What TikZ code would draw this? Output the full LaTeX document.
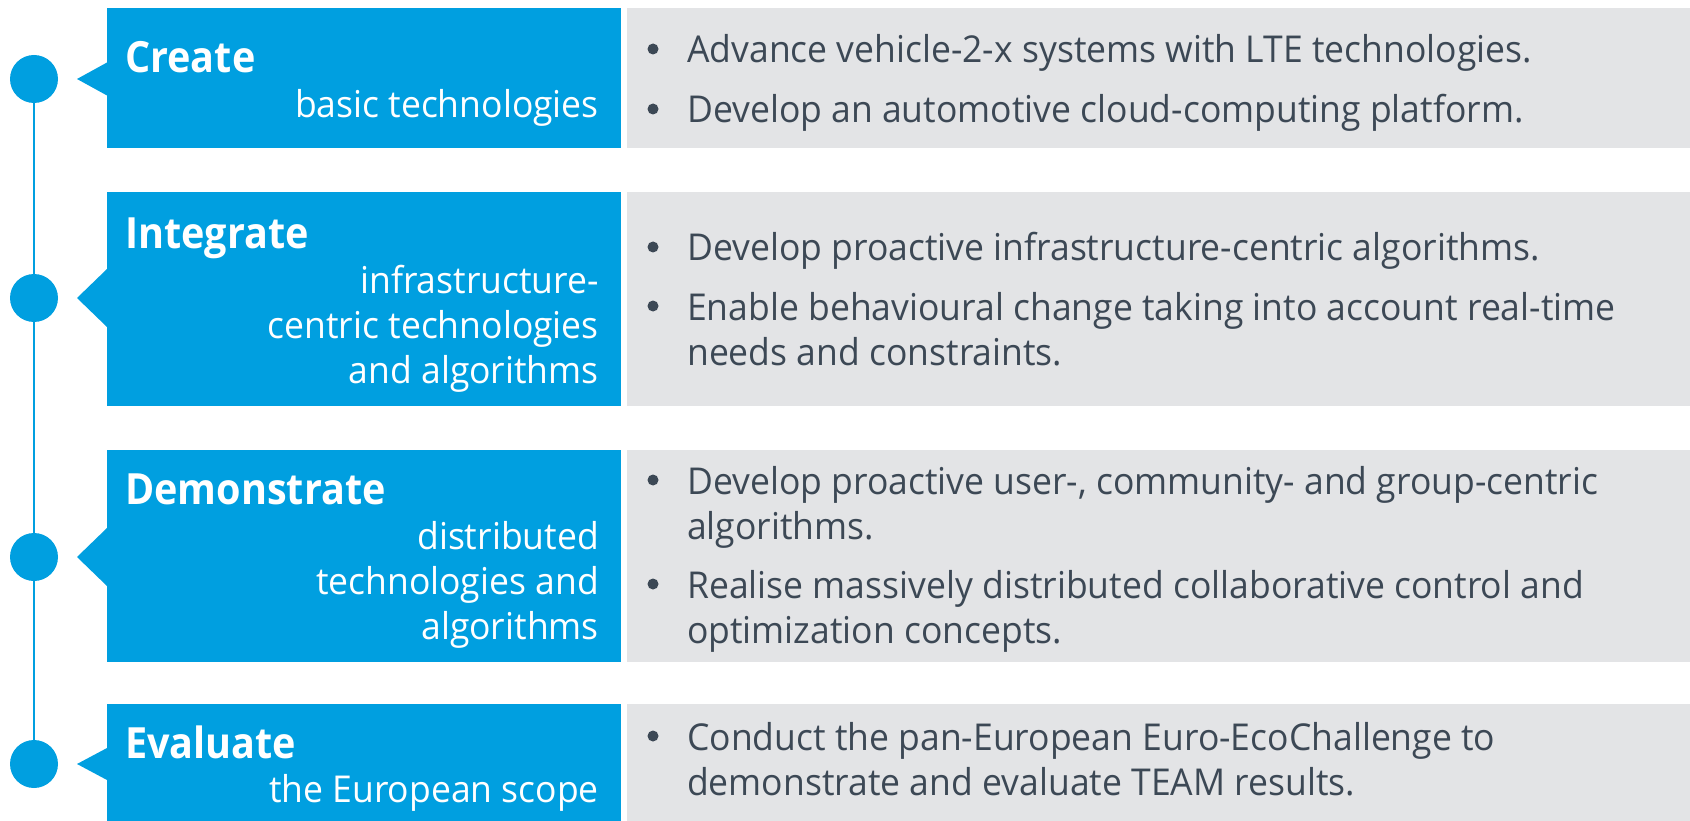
\documentclass[tikz,border=0pt]{standalone}
\usepackage{fontspec}
\setmainfont{Open Sans}[FakeStretch=0.96]
\newfontfamily\headfamily{Open Sans}[FakeStretch=0.92]
\usepackage{xcolor}

\definecolor{teamblue}{HTML}{009FE0}
\definecolor{teamgray}{HTML}{E3E4E6}
\definecolor{teamtext}{HTML}{3C4855}

\newcommand\headfont{\headfamily\fontsize{43}{50}\bfseries\selectfont}
\newcommand\bodyfont{\fontsize{37}{45}\selectfont}

\begin{document}
\begin{tikzpicture}[x=1pt, y=-1pt,
    stagebox/.style={fill=teamblue, inner sep=0pt, minimum width=514pt, anchor=north west},
    infobox/.style={fill=teamgray, inner sep=0pt, minimum width=1063pt, anchor=north west},
    dot/.style={circle, fill=teamblue, minimum size=48pt, inner sep=0pt},
    spine/.style={draw=teamblue, line width=2.5pt},
    head/.style={font=\headfont, text=white, inner sep=0pt, anchor=base west},
    sub/.style={font=\bodyfont, text=white, inner sep=0pt, anchor=base east},
    bullet/.style={circle, fill=teamtext, minimum size=11pt, inner sep=0pt},
    item/.style={font=\bodyfont, text=teamtext, inner sep=0pt, anchor=base west}]
    \useasboundingbox (0,0) rectangle (1690,821);

    % stage boxes
    \node[stagebox, minimum height=140pt] (create) at (107,8) {};
    \node[stagebox, minimum height=214pt] (integrate) at (107,192) {};
    \node[stagebox, minimum height=212pt] (demonstrate) at (107,450) {};
    \node[stagebox, minimum height=117pt] (evaluate) at (107,704) {};
    \node[infobox, minimum height=140pt] (createinfo) at (627,8) {};
    \node[infobox, minimum height=214pt] (integrateinfo) at (627,192) {};
    \node[infobox, minimum height=212pt] (demonstrateinfo) at (627,450) {};
    \node[infobox, minimum height=117pt] (evaluateinfo) at (627,704) {};

    % pointers
    \fill[teamblue] (77,79) -- (107,62.5) -- (107,95.5) -- cycle;
    \fill[teamblue] (77,298) -- (107,269) -- (107,327) -- cycle;
    \fill[teamblue] (77,557) -- (107,528) -- (107,586) -- cycle;
    \fill[teamblue] (77,764) -- (107,748) -- (107,780) -- cycle;

    % timeline
    \node[dot] (d1) at (34,79) {};
    \node[dot] (d2) at (34,298) {};
    \node[dot] (d3) at (34,557) {};
    \node[dot] (d4) at (34,764) {};
    \draw[spine] (d1) -- (d2) -- (d3) -- (d4);

    % stage titles
    \node[head] (createhead) at (125,73) {Create};
    \node[sub] (createsub) at (599,118) {basic technologies};
    \node[head] (integratehead) at (125,249) {Integrate};
    \node[sub] (integratesub) at (599,294)
        {\parbox[t]{480pt}{\raggedleft infrastructure-\\centric technologies\\and algorithms}};
    \node[head] (demonstratehead) at (125,504) {Demonstrate};
    \node[sub] (demonstratesub) at (599,549)
        {\parbox[t]{480pt}{\raggedleft distributed\\technologies and\\algorithms}};
    \node[head] (evaluatehead) at (125,758) {Evaluate};
    \node[sub] (evaluatesub) at (599,802) {the European scope};

    % items
    \node[bullet] (b1) at (653,49) {};
    \node[item] (i1) at (687,63) {Advance vehicle-2-x systems with LTE technologies.};
    \node[bullet] (b2) at (653,109) {};
    \node[item] (i2) at (687,123) {Develop an automotive cloud-computing platform.};
    \node[bullet] (b3) at (653,247) {};
    \node[item] (i3) at (687,261) {Develop proactive infrastructure-centric algorithms.};
    \node[bullet] (b4) at (653,306) {};
    \node[item] (i4) at (687,320)
        {\parbox[t]{990pt}{\raggedright Enable behavioural change taking into account real-time\\needs and constraints.}};
    \node[bullet] (b5) at (653,480) {};
    \node[item] (i5) at (687,494)
        {\parbox[t]{990pt}{\raggedright Develop proactive user-, community- and group-centric\\algorithms.}};
    \node[bullet] (b6) at (653,584) {};
    \node[item] (i6) at (687,598)
        {\parbox[t]{990pt}{\raggedright Realise massively distributed collaborative control and\\optimization concepts.}};
    \node[bullet] (b7) at (653,736) {};
    \node[item] (i7) at (687,750)
        {\parbox[t]{990pt}{\raggedright Conduct the pan-European Euro-EcoChallenge to\\demonstrate and evaluate TEAM results.}};
\end{tikzpicture}
\end{document}
